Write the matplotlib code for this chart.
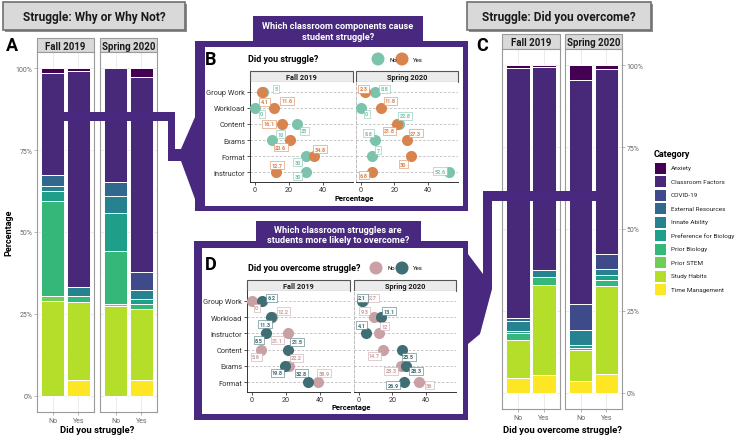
import matplotlib
matplotlib.use("Agg")
import matplotlib.pyplot as plt
from matplotlib.patches import Rectangle, Polygon, Circle
import numpy as np

plt.rcParams['font.family'] = ['Roboto', 'DejaVu Sans']

# ---------------- data ----------------
categories = ["Anxiety", "Classroom Factors", "COVID-19", "External Resources",
              "Innate Ability", "Preference for Biology", "Prior Biology",
              "Prior STEM", "Study Habits", "Time Management"]
cat_colors = ["#440154", "#482878", "#3E4A89", "#31688E", "#26828E",
              "#1F9E89", "#35B779", "#6ECE58", "#B5DE2B", "#FDE725"]
terms = ["Fall 2019", "Spring 2020"]
answers = ["No", "Yes"]

# Panel A: share (%) of each category, order as `categories`
A_fall_no   = [1.5, 31.0, 0, 3.4, 1.5, 3.2, 29.0, 1.6, 28.8, 0]
A_fall_yes  = [0.8, 65.9, 0, 0, 3.0, 0, 1.7, 0, 23.8, 4.8]
A_spring_no = [0, 34.7, 0, 4.3, 5.2, 11.7, 16.2, 0.6, 27.3, 0]
A_spring_yes = [2.5, 59.7, 5.6, 0, 2.8, 1.3, 1.6, 0, 21.6, 4.9]

# Panel C
C_fall_no   = [0.8, 76.3, 0, 1.0, 3.2, 0.6, 2.0, 0, 11.5, 4.6]
C_fall_yes  = [0.6, 61.8, 0, 0, 2.4, 0, 2.3, 0, 27.4, 5.5]
C_spring_no = [4.6, 68.2, 8.0, 0, 4.5, 1.0, 0.7, 0, 9.4, 3.6]
C_spring_yes = [1.2, 56.3, 4.8, 0, 1.9, 1.3, 1.9, 0, 26.8, 5.8]

# Panel B: % of mentions of classroom components
B_components = ["Group Work", "Workload", "Content", "Exams", "Format", "Instructor"]
B_fall_no    = [5, 0, 25, 10, 30, 30]
B_fall_yes   = [4.1, 11.6, 16.1, 20.6, 34.8, 12.7]
B_spring_no  = [8.8, 0, 22.8, 8.8, 7, 52.6]
B_spring_yes = [2.3, 11.8, 21.8, 27.3, 30, 6.8]

# Panel D
D_components = ["Group Work", "Workload", "Instructor", "Content", "Exams", "Format"]
D_fall_no    = [0, 12.2, 21.1, 5.6, 22.2, 38.9]
D_fall_yes   = [6.2, 11.3, 8.5, 21.5, 19.8, 32.8]
D_spring_no  = [2.7, 9.3, 12, 14.7, 25.3, 36]
D_spring_yes = [2.1, 13.1, 4.1, 25.5, 28.3, 26.9]

# label nudges (pixels, dx right, dy down) -- placement only
B_nud_fall_no    = [(13, -3), (7, 6), (7, 7), (9, -6), (-8, 6), (-8, 4)]
B_nud_fall_yes   = [(3, 10), (13, -7), (-13, 0), (-9, 7), (6, -7), (1, -7)]
B_nud_spring_no  = [(9, -3), (6, 6), (6, -8), (-7, -7), (6, -6), (-9, -1)]
B_nud_spring_yes = [(-1, -3), (10, -7), (-8, 7), (9, -7), (-8, 8), (-8, 3)]
D_nud_fall_no    = [(5, 7), (11, -6), (-10, 7), (-5, 7), (7, -8), (6, -9)]
D_nud_fall_yes   = [(9, -3), (-6, 7), (-7, 7), (9, -8), (-8, 7), (-6, -9)]
D_nud_spring_no  = [(10, -3), (-10, -6), (6, -7), (-9, 6), (-10, 5), (10, 3)]
D_nud_spring_yes = [(0, -3), (8, -6), (-4, -8), (7, 7), (10, 5), (-11, 3)]

# ---------------- figure ----------------
W, H = 740, 439
fig = plt.figure(figsize=(W / 100, H / 100), dpi=100)
fig.patch.set_facecolor("white")

PURPLE = "#48297f"
STRIP = "#d9d9d9"
BORDER = "#9a9a9a"
GRID = "#ebebeb"


def ax_px(x0, y0, x1, y1, z=1):
    a = fig.add_axes([x0 / W, 1 - y1 / H, (x1 - x0) / W, (y1 - y0) / H])
    a.set_zorder(z)
    return a


# background & overlay pixel axes
bg = ax_px(0, 0, W, H, z=0)
bg.set_xlim(0, W); bg.set_ylim(H, 0); bg.axis("off")
ov = ax_px(0, 0, W, H, z=5)
ov.set_xlim(0, W); ov.set_ylim(H, 0); ov.axis("off")
ov.patch.set_alpha(0)


def title_box(x0, y0, x1, y1, text):
    bg.add_patch(Rectangle((x0 + 2, y0 + 2), x1 - x0, y1 - y0, fc="#8c8c8c", ec="none"))
    bg.add_patch(Rectangle((x0, y0), x1 - x0, y1 - y0, fc="#d9d9d9", ec="#6f6f6f", lw=1.2))
    bg.text((x0 + x1) / 2, (y0 + y1) / 2, text, ha="center", va="center",
            fontsize=8.6, fontweight="bold", color="#1a1a1a")


title_box(3, 3, 185, 31, "Struggle: Why or Why Not?")
title_box(467, 3, 651, 31, "Struggle: Did you overcome?")
bg.text(12, 46, "A", fontsize=13, fontweight="bold", ha="center", va="center")
bg.text(482, 46, "C", fontsize=13, fontweight="bold", ha="center", va="center")


def strip(x0, y0, x1, y1, text, fs, layer, fc=STRIP, ec=BORDER):
    layer.add_patch(Rectangle((x0, y0), x1 - x0, y1 - y0, fc=fc, ec=ec, lw=0.8, zorder=3))
    layer.text((x0 + x1) / 2, (y0 + y1) / 2 + 0.5, text, ha="center", va="center",
               fontsize=fs, fontweight="bold", color="#1a1a1a", zorder=4)


def stacked_panel(box, series, right_axis=False, show_left=False):
    a = ax_px(*box, z=1)
    x = np.arange(len(series))
    for i, vals in enumerate(series):
        bottom = 100.0
        for v, c in zip(vals, cat_colors):
            if v <= 0:
                continue
            a.bar(x[i], v, bottom=bottom - v, width=0.9, color=c,
                  edgecolor="white", linewidth=0.7, zorder=2)
            bottom -= v
    a.set_xlim(-0.6, len(series) - 0.4)
    a.set_ylim(-5, 105)
    a.set_xticks(x)
    a.set_xticklabels(answers, fontsize=5, color="#555555")
    a.set_yticks([0, 25, 50, 75, 100])
    a.set_yticks([12.5, 37.5, 62.5, 87.5], minor=True)
    a.grid(True, which="major", color=GRID, lw=0.7, zorder=0)
    a.grid(True, which="minor", axis="y", color="#f5f5f5", lw=0.5, zorder=0)
    a.tick_params(axis="both", which="both", length=2, width=0.5, colors="#999999",
                  labelsize=5, labelcolor="#666666", pad=1.5)
    a.tick_params(which="minor", length=0)
    if right_axis:
        a.yaxis.tick_right()
        a.set_yticklabels(["0%", "25%", "50%", "75%", "100%"])
    elif show_left:
        a.set_yticklabels(["0%", "25%", "50%", "75%", "100%"])
    else:
        a.tick_params(axis="y", which="both", left=False, right=False,
                      labelleft=False, labelright=False)
    for s in a.spines.values():
        s.set_color(BORDER); s.set_linewidth(0.8)
    a.set_axisbelow(True)
    return a


stacked_panel((37, 53, 94, 413), [A_fall_no, A_fall_yes], show_left=True)
stacked_panel((100, 53, 157, 413), [A_spring_no, A_spring_yes])
strip(37, 39, 94, 53, terms[0], 7, bg)
strip(100, 39, 157, 53, terms[1], 7, bg)
bg.text(97, 431, "Did you struggle?", ha="center", va="center", fontsize=6.8,
        fontweight="bold")
bg.text(9, 233, "Percentage", ha="center", va="center", fontsize=6.5,
        fontweight="bold", rotation=90)

stacked_panel((502, 50, 560, 410), [C_fall_no, C_fall_yes])
stacked_panel((565, 50, 622, 410), [C_spring_no, C_spring_yes], right_axis=True)
strip(502, 35, 560, 50, terms[0], 7, bg)
strip(565, 35, 622, 50, terms[1], 7, bg)
bg.text(562, 431, "Did you overcome struggle?", ha="center", va="center",
        fontsize=6.8, fontweight="bold")

# legend
bg.text(654, 155, "Category", ha="left", va="center", fontsize=6.5, fontweight="bold")
for i, (cname, col) in enumerate(zip(categories, cat_colors)):
    yc = 169 + 13.5 * i
    bg.add_patch(Rectangle((655, yc - 5.5), 11, 11, fc=col, ec="none"))
    bg.text(671, yc, cname, ha="left", va="center", fontsize=4.6, color="#222222")

# ---------------- purple frames & connectors ----------------
# A -> B connector
ov.add_patch(Polygon([(63, 113), (175, 113), (175, 150), (181, 150), (195, 118),
                      (195, 200), (181, 162), (168, 162), (168, 122), (63, 122)],
                     closed=True, fc=PURPLE, ec="none"))
# D -> C connector
ov.add_patch(Polygon([(492, 192), (597, 192), (597, 202), (492, 202), (492, 290),
                      (480, 335), (468, 345), (468, 255), (483, 275), (483, 202),
                      (483, 192)], closed=True, fc=PURPLE, ec="none"))

# B frame
ov.add_patch(Rectangle((253, 17), 170, 26, fc=PURPLE, ec="none"))
ov.add_patch(Rectangle((195, 42), 273, 170, fc=PURPLE, ec="none"))
ov.add_patch(Rectangle((205, 48), 258, 159, fc="white", ec="none"))
ov.text(338, 26.5, "Which classroom components cause", ha="center", va="center",
        color="white", fontsize=6.6, fontweight="bold")
ov.text(338, 38, "student struggle?", ha="center", va="center",
        color="white", fontsize=6.6, fontweight="bold")
# D frame
ov.add_patch(Rectangle((256, 222), 165, 21, fc=PURPLE, ec="none"))
ov.add_patch(Rectangle((194, 242), 274, 179, fc=PURPLE, ec="none"))
ov.add_patch(Rectangle((202, 249), 261, 166, fc="white", ec="none"))
ov.text(338, 230.5, "Which classroom struggles are", ha="center", va="center",
        color="white", fontsize=6.6, fontweight="bold")
ov.text(338, 241, "students more likely to overcome?", ha="center", va="center",
        color="white", fontsize=6.6, fontweight="bold")

# ---------------- dot panels ----------------
B_NO, B_YES = "#7cc3ad", "#d9834d"
D_NO, D_YES = "#c9a1a5", "#3f6f74"

top = ax_px(0, 0, W, H, z=9)
top.set_xlim(0, W); top.set_ylim(H, 0); top.axis("off"); top.patch.set_alpha(0)


def dot_panel(box, comps, no_vals, yes_vals, no_nud, yes_nud, c_no, c_yes,
              first=False):
    a = ax_px(*box, z=10)
    y = np.arange(len(comps))
    a.set_ylim(len(comps) - 0.4, -0.6)
    a.set_xlim(-2.75, 57.75)
    for yy in y:
        a.axhline(yy, color="#bdbdbd", lw=0.6, ls=(0, (3, 2)), zorder=0)
    a.scatter(no_vals, y, s=64, color=c_no, zorder=3, linewidths=0)
    a.scatter(yes_vals, y, s=64, color=c_yes, zorder=3, linewidths=0)
    for vals, nud, col in ((no_vals, no_nud, c_no), (yes_vals, yes_nud, c_yes)):
        for v, yy, (dx, dy) in zip(vals, y, nud):
            a.annotate(f"{v:g}", (v, yy), xytext=(dx * 0.72, -dy * 0.72),
                       textcoords="offset points", ha="center", va="center",
                       fontsize=4.0, color=col, fontweight="bold", zorder=5,
                       bbox=dict(boxstyle="square,pad=0.25", fc="white", ec=col,
                                 lw=0.4, alpha=0.95))
    a.set_xticks([0, 20, 40])
    a.tick_params(axis="x", length=2, width=0.6, labelsize=5.2, pad=1,
                  colors="#333333")
    a.set_yticks(y)
    if first:
        a.set_yticklabels(comps)
        a.tick_params(axis="y", length=2, width=0.6, labelsize=5.3, pad=1.5,
                      colors="#333333")
        a.spines["left"].set_color("#333333")
    else:
        a.tick_params(axis="y", length=0, labelleft=False)
        a.spines["left"].set_color("#bdbdbd")
        a.spines["left"].set_linestyle((0, (3, 2)))
    a.spines["left"].set_linewidth(0.7)
    a.spines["bottom"].set_color("#333333")
    a.spines["bottom"].set_linewidth(0.7)
    a.spines["top"].set_visible(False)
    a.spines["right"].set_visible(False)
    return a


dot_panel((250, 83, 353, 183), B_components, B_fall_no, B_fall_yes,
          B_nud_fall_no, B_nud_fall_yes, B_NO, B_YES, first=True)
dot_panel((356, 83, 458, 183), B_components, B_spring_no, B_spring_yes,
          B_nud_spring_no, B_nud_spring_yes, B_NO, B_YES)
strip(250, 72, 353, 83, terms[0], 5.3, top, fc="#ebebeb", ec="#555555")
strip(356, 72, 458, 83, terms[1], 5.3, top, fc="#ebebeb", ec="#555555")
top.text(354, 199, "Percentage", ha="center", va="center", fontsize=5.5,
         fontweight="bold")
top.text(211, 60, "B", fontsize=13, fontweight="bold", ha="center", va="center")
top.text(248, 60, "Did you struggle?", fontsize=6.5, fontweight="bold", ha="left",
         va="center")
top.add_patch(Circle((378, 60), 6.5, fc=B_NO, ec="none"))
top.text(389, 60, "No", fontsize=4.3, ha="left", va="center")
top.add_patch(Circle((402, 60), 6.5, fc=B_YES, ec="none"))
top.text(413, 60, "Yes", fontsize=4.3, ha="left", va="center")

dot_panel((247, 292, 350, 393), D_components, D_fall_no, D_fall_yes,
          D_nud_fall_no, D_nud_fall_yes, D_NO, D_YES, first=True)
dot_panel((354, 292, 456, 393), D_components, D_spring_no, D_spring_yes,
          D_nud_spring_no, D_nud_spring_yes, D_NO, D_YES)
strip(247, 281, 350, 292, terms[0], 5.3, top, fc="#ebebeb", ec="#555555")
strip(354, 281, 456, 292, terms[1], 5.3, top, fc="#ebebeb", ec="#555555")
top.text(351, 408, "Percentage", ha="center", va="center", fontsize=5.5,
         fontweight="bold")
top.text(211, 265, "D", fontsize=13, fontweight="bold", ha="center", va="center")
top.text(248, 269, "Did you overcome struggle?", fontsize=6.5, fontweight="bold",
         ha="left", va="center")
top.add_patch(Circle((376, 269), 6.5, fc=D_NO, ec="none"))
top.text(387, 269, "No", fontsize=4.3, ha="left", va="center")
top.add_patch(Circle((402, 269), 6.5, fc=D_YES, ec="none"))
top.text(413, 269, "Yes", fontsize=4.3, ha="left", va="center")

fig.savefig("out.png", dpi=100)
